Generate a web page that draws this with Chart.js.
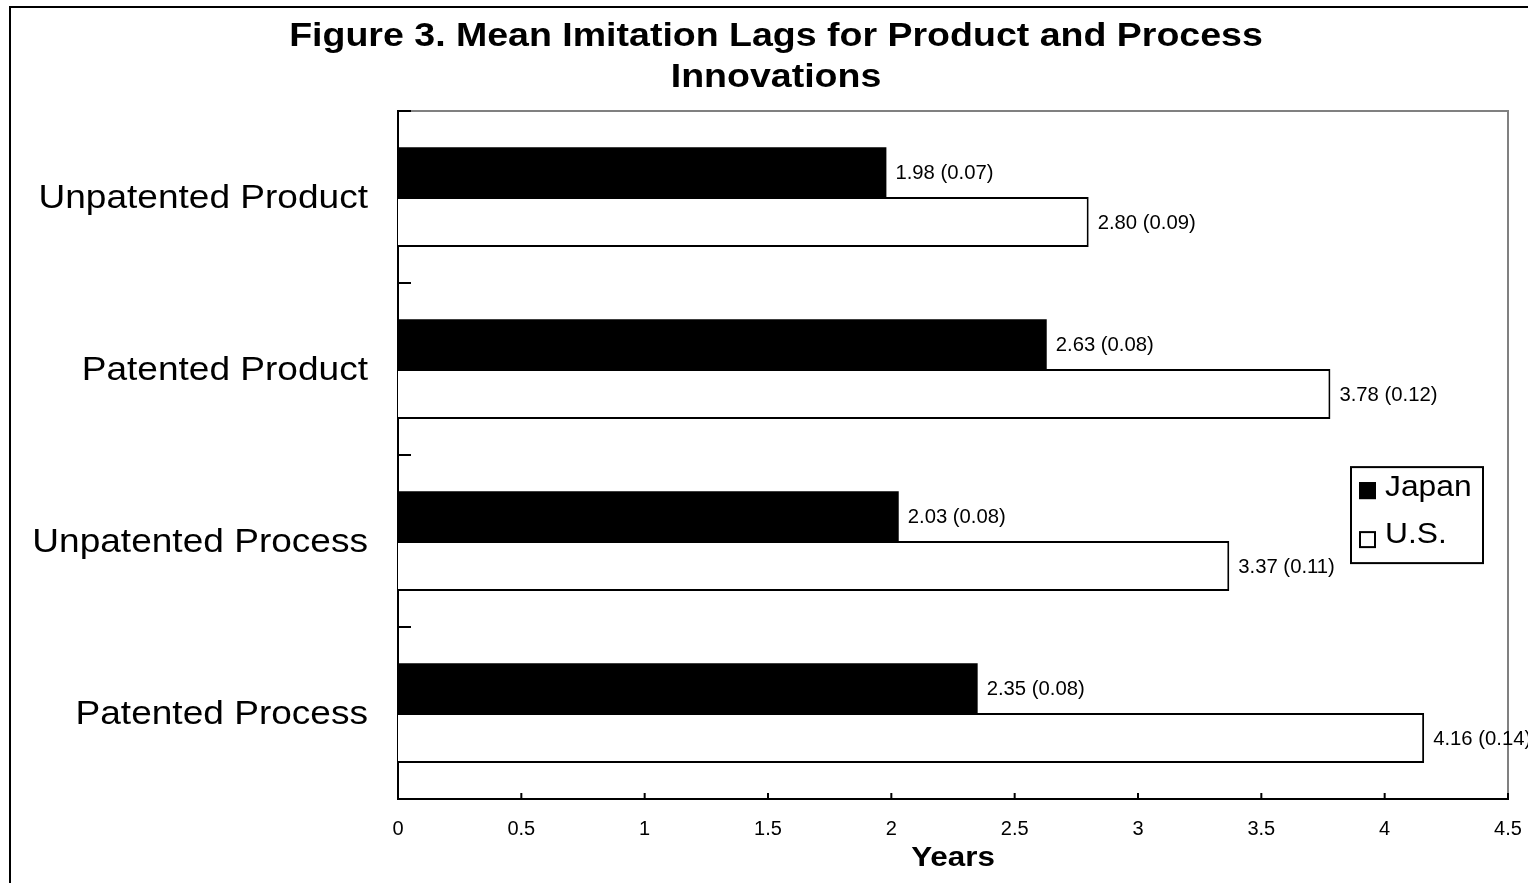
<!DOCTYPE html>
<html>
<head>
<meta charset="utf-8">
<title>Mean Imitation Lags for Product and Process Innovations</title>
<script src="https://cdn.jsdelivr.net/npm/chart.js@4.4.1/dist/chart.umd.min.js"></script>
<style>
  html, body { margin: 0; padding: 0; background: #fff; overflow: hidden; }
  .frame {
    position: absolute; left: 9px; top: 6px;
    width: 1600px; height: 900px;
    border: 2px solid #000; background: #fff;
  }
  #chart { position: absolute; left: 0; top: 0; }
</style>
</head>
<body>
<div class="frame"><canvas id="chart" width="1560" height="880"></canvas></div>
<script>
// Mean imitation lag (years) with standard errors in parentheses
const categories = ['Unpatented Product', 'Patented Product', 'Unpatented Process', 'Patented Process'];
const japanMeans = [1.98, 2.63, 2.03, 2.35];
const japanSE    = [0.07, 0.08, 0.08, 0.08];
const usMeans    = [2.80, 3.78, 3.37, 4.16];
const usSE       = [0.09, 0.12, 0.11, 0.14];
const seriesNames = ['Japan', 'U.S.'];
const titleLines = ['Figure 3. Mean Imitation Lags for Product and Process', 'Innovations'];
const axisTitle = 'Years';
const xMin = 0, xMax = 4.5, xStep = 0.5;

const FONT = "'Liberation Sans', Arial, Helvetica, sans-serif";
const seList = [japanSE, usSE];
const TITLE_SHIFT = 16.5;   // horizontal offset of the chart title from its box centre

// Wrap a drawing method so its text is drawn horizontally widened about an anchor x
function widen(obj, method, factor, anchorFn, shiftX, shiftY) {
  const flag = '_wide_' + method;
  if (obj[flag]) return;
  const orig = obj[method];
  obj[method] = function (...args) {
    const ctx = this.ctx;
    const ax = anchorFn(this);
    ctx.save();
    ctx.translate(ax + (shiftX || 0), shiftY || 0);
    ctx.scale(factor, 1);
    ctx.translate(-ax, 0);
    orig.apply(this, args);
    ctx.restore();
  };
  obj[flag] = true;
}

// Draw one text string widened about its anchor point
function wideText(ctx, txt, x, y, factor) {
  ctx.save();
  ctx.translate(x, y);
  ctx.scale(factor, 1);
  ctx.fillText(txt, 0, 0);
  ctx.restore();
}

const decorations = {
  id: 'decorations',
  afterLayout(chart) {
    if (chart.titleBlock) {
      widen(chart.titleBlock, 'draw', 1.12, b => (b.left + b.right) / 2, TITLE_SHIFT, 1);
    }
  },
  beforeDatasetsDraw(chart) {
    // grey plot-area frame on the top and right
    const { ctx, chartArea: a } = chart;
    ctx.save();
    ctx.strokeStyle = '#808080';
    ctx.lineWidth = 2;
    ctx.beginPath();
    ctx.moveTo(a.left, a.top);
    ctx.lineTo(a.right, a.top);
    ctx.lineTo(a.right, a.bottom);
    ctx.stroke();
    ctx.restore();
  },
  afterDatasetsDraw(chart) {
    // value labels: mean (standard error)
    const { ctx } = chart;
    ctx.save();
    ctx.font = '20.3px ' + FONT;
    ctx.fillStyle = '#000';
    ctx.textAlign = 'left';
    ctx.textBaseline = 'middle';
    chart.data.datasets.forEach((ds, di) => {
      const meta = chart.getDatasetMeta(di);
      meta.data.forEach((bar, i) => {
        const txt = ds.data[i].toFixed(2) + ' (' + seList[di][i].toFixed(2) + ')';
        ctx.fillText(txt, bar.x + 9, bar.y + 1);
      });
    });
    ctx.restore();
  },
  afterDraw(chart) {
    const { ctx, chartArea: a, scales } = chart;
    ctx.save();
    ctx.strokeStyle = '#000';
    ctx.lineWidth = 2;
    // inside tick marks on the category axis, at category boundaries
    const yS = scales.y;
    const n = chart.data.labels.length;
    const band = (a.bottom - a.top) / n;
    ctx.beginPath();
    for (let i = 0; i <= n; i++) {
      const y = yS.getPixelForValue(0) - band / 2 + i * band;
      ctx.moveTo(a.left, y);
      ctx.lineTo(a.left + 13, y);
    }
    // inside tick marks on the value axis
    const xS = scales.x;
    xS.ticks.forEach(t => {
      const x = xS.getPixelForValue(t.value);
      ctx.moveTo(x, a.bottom);
      ctx.lineTo(x, a.bottom - 6);
    });
    ctx.stroke();

    // legend box
    const bx = a.right - 157, by = a.top + 356, bw = 132, bh = 96;
    ctx.fillStyle = '#fff';
    ctx.fillRect(bx, by, bw, bh);
    ctx.strokeRect(bx, by, bw, bh);
    ctx.font = '30px ' + FONT;
    ctx.textBaseline = 'middle';
    ctx.textAlign = 'left';
    const rows = [{ sq: by + 15, tx: by + 21 }, { sq: by + 64, tx: by + 68 }];
    chart.data.datasets.forEach((ds, di) => {
      const r = rows[di];
      const size = 17;
      ctx.fillStyle = ds.backgroundColor;
      ctx.fillRect(bx + 8, r.sq, size, size);
      ctx.lineWidth = 2;
      ctx.strokeStyle = '#000';
      ctx.strokeRect(bx + 8 + 1, r.sq + 1, size - 2, size - 2);
      ctx.fillStyle = '#000';
      wideText(ctx, ds.label, bx + 34, r.tx, 1.06);
    });
    ctx.restore();
  }
};

new Chart(document.getElementById('chart'), {
  type: 'bar',
  data: {
    labels: categories,
    datasets: [
      {
        label: seriesNames[0],
        data: japanMeans,
        backgroundColor: '#000000',
        borderColor: '#000000',
        borderWidth: 0,
        categoryPercentage: 0.58,
        barPercentage: 1.0
      },
      {
        label: seriesNames[1],
        data: usMeans,
        backgroundColor: '#ffffff',
        borderColor: '#000000',
        borderWidth: 2,
        borderSkipped: 'start',
        categoryPercentage: 0.58,
        barPercentage: 1.0
      }
    ]
  },
  options: {
    indexAxis: 'y',
    responsive: false,
    animation: false,
    devicePixelRatio: 1,
    layout: { padding: { left: 0, right: 63, top: 0, bottom: 10 } },
    plugins: {
      legend: { display: false },
      tooltip: { enabled: false },
      title: {
        display: true,
        text: titleLines,
        color: '#000',
        font: { family: FONT, size: 33.5, weight: 'bold', lineHeight: 1.242 },
        padding: { top: 6.5, bottom: 13.4 }
      }
    },
    scales: {
      x: {
        type: 'linear',
        min: xMin,
        max: xMax,
        z: 1,
        grid: { display: false, drawTicks: false },
        border: { display: true, color: '#000', width: 2 },
        ticks: {
          stepSize: xStep,
          color: '#000',
          font: { family: FONT, size: 20 },
          padding: 18.5,
          maxRotation: 0,
          autoSkip: false,
          callback: v => String(v)
        },
        title: {
          display: true,
          text: axisTitle,
          color: '#000',
          font: { family: FONT, size: 28, weight: 'bold', lineHeight: 1.2 },
          padding: { top: 0, bottom: 3 }
        },
        afterFit(s) {
          s.height = 79;
          s.paddingLeft = 0;
          s.paddingRight = 0;
          widen(s, 'drawTitle', 1.12, sc => (sc.left + sc.right) / 2);
        }
      },
      y: {
        type: 'category',
        offset: true,
        z: 1,
        grid: { display: false, offset: true, drawTicks: false },
        border: { display: true, color: '#000', width: 2 },
        ticks: {
          color: '#000',
          font: { family: FONT, size: 32.5 },
          padding: 30,
          autoSkip: false
        },
        afterFit(s) {
          s.width = 387;
          s.paddingTop = 0;
          s.paddingBottom = 0;
          widen(s, 'drawLabels', 1.14, sc => sc.right - sc.options.ticks.padding, 0, 2);
        }
      }
    }
  },
  plugins: [decorations]
});
</script>
</body>
</html>
